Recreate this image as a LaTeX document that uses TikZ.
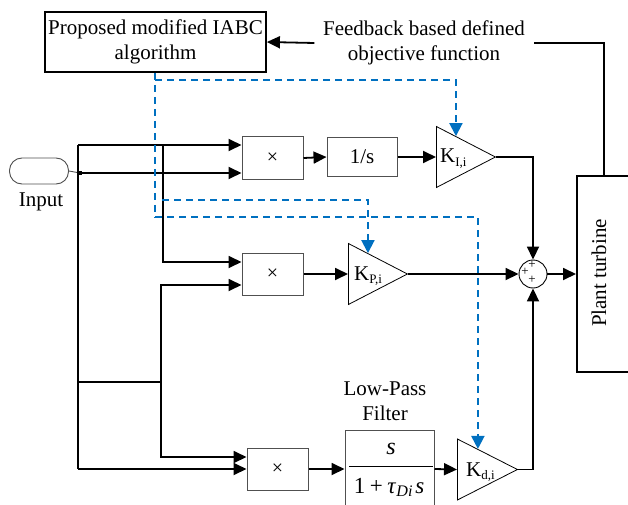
\documentclass[tikz,border=0pt]{standalone}
\usepackage{fontspec}
\setmainfont{Liberation Serif}
\usetikzlibrary{arrows.meta,shapes.geometric,calc}
\definecolor{ctrlblue}{RGB}{0,112,192}
\definecolor{boxgray}{RGB}{80,80,80}
\begin{document}
\begin{tikzpicture}[x=1pt,y=-1pt,
  every node/.style={font=\fontsize{21}{25}\selectfont},
  wire/.style={line width=1.8pt,black},
  arr/.style={wire,-{Triangle[length=13pt,width=12pt]}},
  ctrl/.style={draw=ctrlblue,line width=2pt,dash pattern=on 7pt off 5pt},
  ctrlarr/.style={ctrl,-{Triangle[length=13pt,width=13pt]}},
  bigbox/.style={draw,line width=1.8pt,align=center,inner sep=0pt},
  mbox/.style={draw=boxgray,line width=1pt,minimum width=61,minimum height=42,inner sep=0pt},
  mult/.style={font=\fontsize{20}{20}\selectfont},
  gain/.style={isosceles triangle,isosceles triangle stretches,draw,line width=0.8pt,
    minimum width=61,minimum height=59,inner sep=0pt,anchor=lower side},
  gainlabel/.style={anchor=base west,inner sep=0pt},
  plus/.style={inner sep=0pt,font=\fontsize{13}{13}\selectfont},
]
\useasboundingbox (0,0) rectangle (628,505);

% upper blocks: optimiser and objective function
\node[bigbox,minimum width=221,minimum height=60] (prop) at (155.5,42) {Proposed modified IABC\\algorithm};
\node[align=center,inner xsep=8.5pt,inner ysep=0pt] (fb) at (424,43) {Feedback based defined\\objective function};

% input terminal
\node[draw=boxgray,line width=0.9pt,rounded corners=12.5pt,minimum width=59,minimum height=26,inner sep=0pt] (input) at (39,171) {};
\node (inlabel) at (41,202) {Input};
\node[fill,inner sep=0pt,minimum size=4] (jn) at (80,173) {};

% multipliers, integrator and gains
\node[mbox,mult] (m1) at (272.5,158) {×};
\node[mbox,mult] (m2) at (272.5,274) {×};
\node[mbox,mult] (m3) at (277.5,469) {×};
\node[mbox,minimum width=70,minimum height=39] (integ) at (362,157) {1/s};

\node[gain] (ki) at (436,157) {};
\node[gain] (kp) at (348,274) {};
\node[gain,minimum height=60] (kd) at (457,469.5) {};
\node[gainlabel] at ([xshift=4pt,yshift=-6pt]ki.lower side) {K\textsubscript{\fontsize{13}{13}\selectfont I,i}};
\node[gainlabel] at ([xshift=6pt,yshift=-6.5pt]kp.lower side) {K\textsubscript{\fontsize{13}{13}\selectfont P,i}};
\node[gainlabel] at ([xshift=9pt,yshift=-6.5pt]kd.lower side) {K\textsubscript{\fontsize{13}{13}\selectfont d,i}};

% low-pass filter
\node[draw=boxgray,line width=1pt,minimum width=89,minimum height=84,inner sep=0pt] (lpf) at (389.5,472) {};
\node[align=center] (lpfl) at (385,401) {Low-Pass\\Filter};
\draw[line width=1pt] (349,466) -- (433,466);
\node[inner sep=0pt,font=\fontsize{24}{24}\selectfont\itshape] (num) at (391,449) {s};
\node[inner sep=0pt,anchor=base,font=\fontsize{23}{23}\selectfont] (den) at (389,493)
  {1\hspace{0.2em}+\hspace{0.2em}\textit{τ}\textsubscript{\textit{Di}}\hspace{0.1em}\textit{s}};

% summing junction
\node[circle,draw,line width=0.9pt,minimum size=28,inner sep=0pt] (sum) at (533,274) {};
\node[plus] at (532,265) {+};
\node[plus] at (525,272) {+};
\node[plus] at (532,280) {+};

% plant
\node[draw,line width=1.8pt,minimum width=56,minimum height=196,inner sep=0pt,anchor=west] (plant) at (576,274) {};
\node[rotate=90] (plantl) at (599,273) {Plant turbine};

% input distribution
\coordinate (b1) at (78,145);
\coordinate (b2) at (78,382);
\coordinate (b3) at (78,469);
\coordinate (c1) at (163,145);
\coordinate (c2) at (161,382);
\draw[line width=0.9pt,boxgray] (input.east) -- (jn);
\draw[wire] (b1) -- (b3);
\draw[arr] (b1) -- (b1 -| m1.west);
\draw[arr] (jn) -- (jn -| m1.west);
\draw[arr] (c1) |- ([yshift=12pt]m2.west);
\draw[wire] (b2) -- (c2);
\draw[arr] (c2) |- ([yshift=-11pt]m2.west);
\draw[arr] (c2) |- ([yshift=12pt]m3.west);
\draw[arr] (b3) -- (m3.west);

% forward paths
\draw[arr] (m1.east) -- (integ.west);
\draw[arr] (integ.east) -- (ki.lower side);
\draw[arr] (ki.apex) -| (sum.north);
\draw[arr] (m2.east) -- (kp.lower side);
\draw[arr] (kp.apex) -- (sum.west);
\draw[arr] (m3.east) -- (m3.east -| lpf.west);
\draw[arr] (m3.east -| lpf.east) -- (kd.lower side);
\draw[arr] (kd.apex) -| (sum.south);
\draw[arr] (sum.east) -- (sum.east -| plant.west);

% feedback to the optimiser
\draw[wire] ([xshift=-1pt]plant.north) |- (fb.east);
\draw[arr] (fb.west) -- (prop.east);

% gain tuning signals
\coordinate (kiT) at ($(ki.left corner)!0.33!(ki.apex)$);
\coordinate (kpT) at ($(kp.left corner)!0.33!(kp.apex)$);
\coordinate (kdT) at ($(kd.left corner)!0.34!(kd.apex)$);
\coordinate (dA) at (155,80);
\coordinate (dB) at (155,217);
\coordinate (dC) at (162,200);
\draw[ctrl] (prop.south -| dA) -- (dB);
\draw[ctrlarr] (dA) -| (kiT);
\draw[ctrlarr] (dC) -| (kpT);
\draw[ctrlarr] (dB) -| (kdT);
\end{tikzpicture}
\end{document}
